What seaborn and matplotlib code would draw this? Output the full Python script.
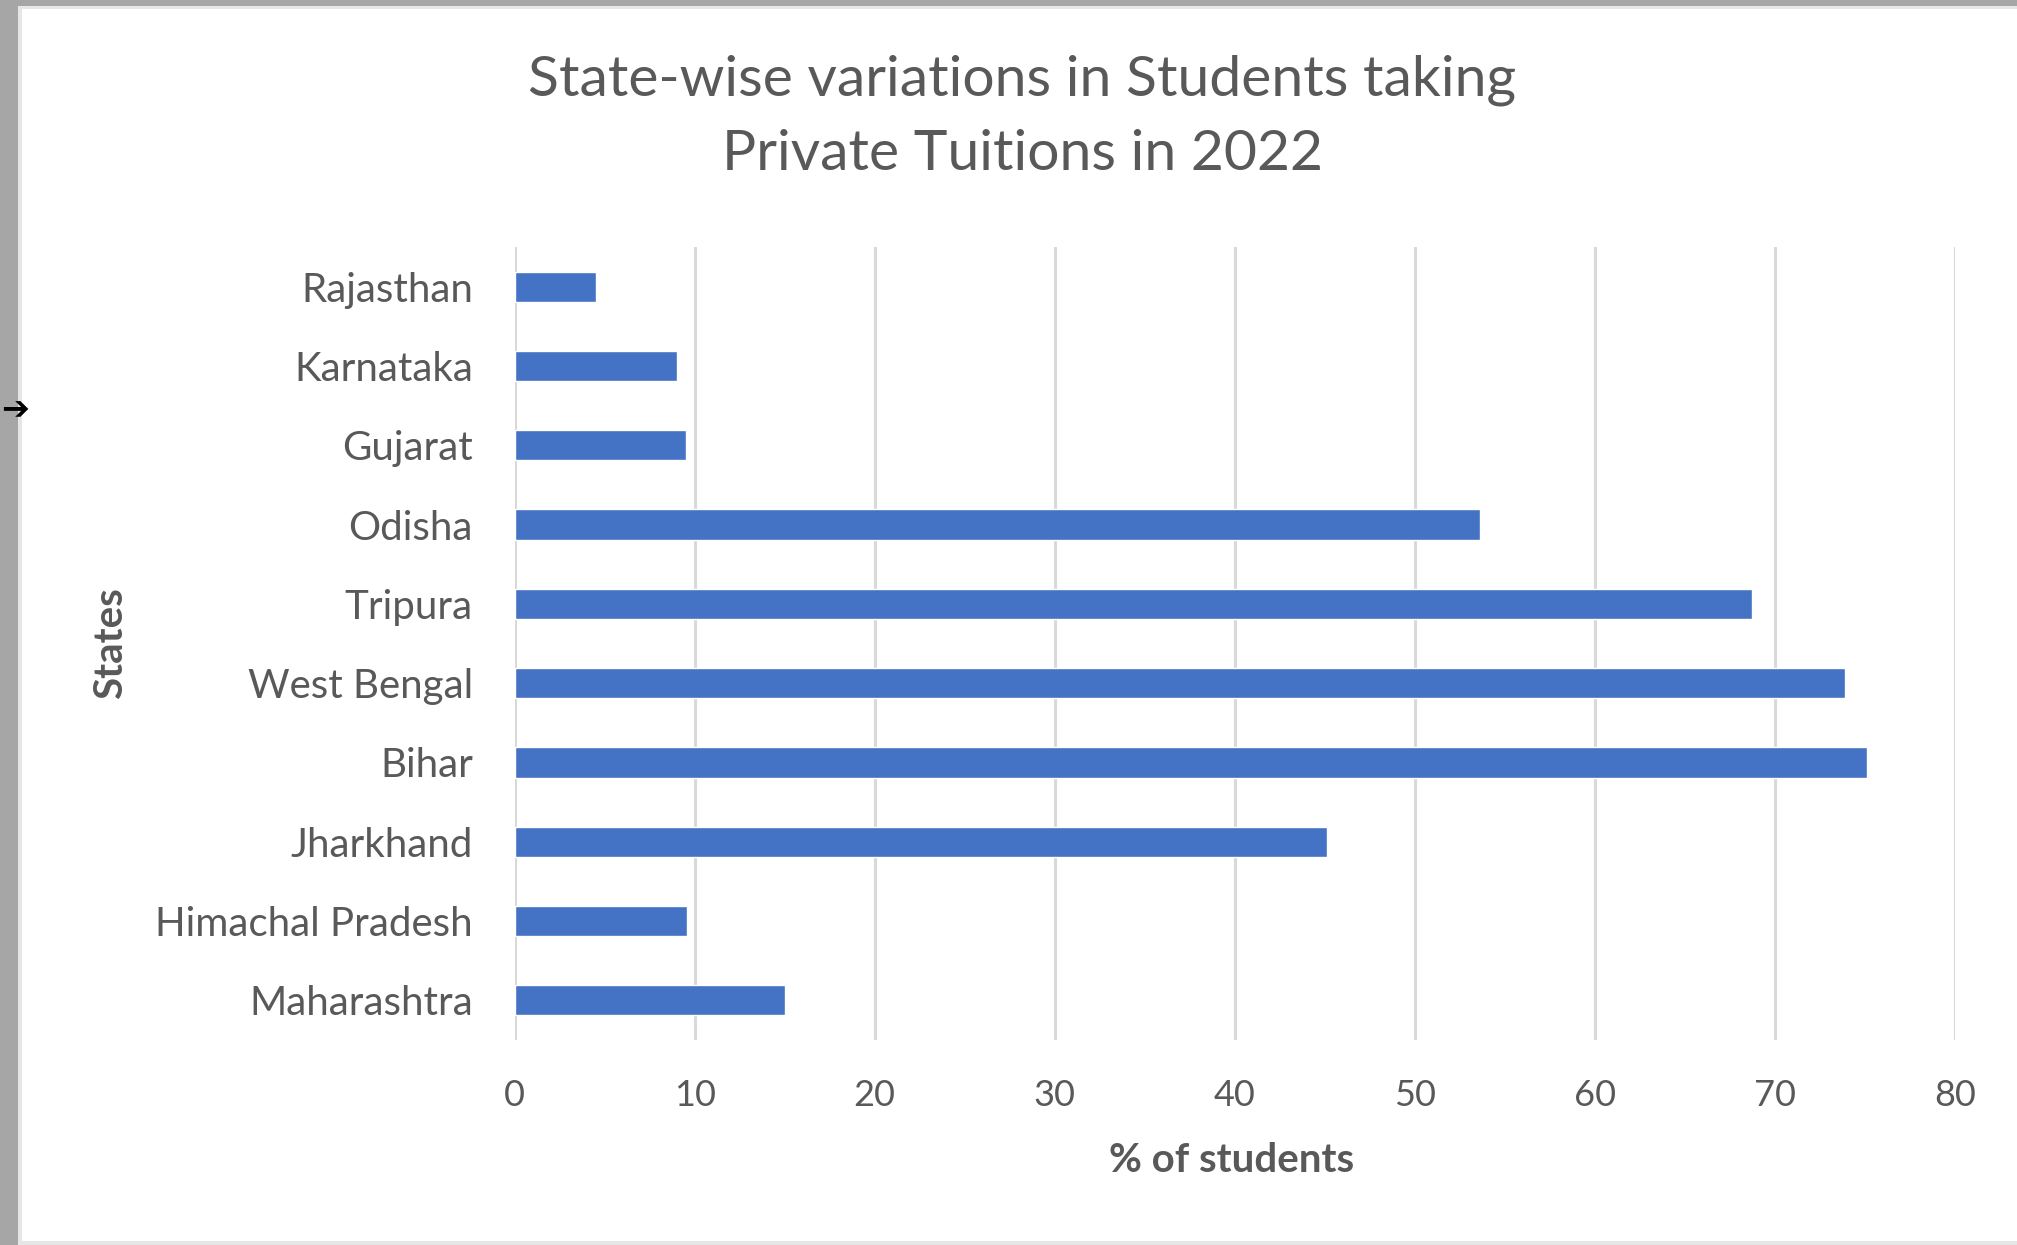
import matplotlib
matplotlib.use("Agg")
import matplotlib.pyplot as plt
import seaborn as sns
import pandas as pd
from matplotlib.patches import Rectangle

states = ["Rajasthan", "Karnataka", "Gujarat", "Odisha", "Tripura",
          "West Bengal", "Bihar", "Jharkhand", "Himachal Pradesh", "Maharashtra"]
percent = [4.5, 9.0, 9.5, 53.6, 68.7, 73.9, 75.1, 45.1, 9.6, 15.0]
xticks = [0, 10, 20, 30, 40, 50, 60, 70, 80]

title_lines = ["State-wise variations in Students taking", "Private Tuitions in 2022"]
xlabel = "% of students"
ylabel = "States"

sns.set_theme(style="white")
plt.rcParams['font.family'] = ['Lato', 'DejaVu Sans']

df = pd.DataFrame({"State": states, "Percent": percent})

W, H = 2017, 1245
fig = plt.figure(figsize=(W / 100, H / 100), dpi=100)
fig.patch.set_facecolor("white")

# screenshot frame
fig.add_artist(Rectangle((0, 0), 1, 1, transform=fig.transFigure,
                         facecolor="#a6a6a6", edgecolor="none", zorder=-10))
fig.add_artist(Rectangle((18/W, 0), 1 - 18/W, 1 - 6/H, transform=fig.transFigure,
                         facecolor="#e6e6e6", edgecolor="none", zorder=-9))
fig.add_artist(Rectangle((22/W, 4/H), 1, 1 - 13/H, transform=fig.transFigure,
                         facecolor="white", edgecolor="none", zorder=-8))
fig.text(0.0005, 1 - 410/H, "➔", fontsize=24, color="black", fontweight="bold",
         family=['DejaVu Sans'], ha="left", va="center")

ax = fig.add_axes([514.6/W, 1 - 1040/H, (1955 - 514.6)/W, (1040 - 247)/H])
ax.set_facecolor("none")

sns.barplot(data=df, x="Percent", y="State", orient="h", color="#4472C4",
            width=0.38, saturation=1, ax=ax, zorder=3)

ax.set_xlim(0, 80)
ax.set_ylim(9.5, -0.5)
ax.set_xticks(xticks)
ax.set_xticklabels([str(t) for t in xticks])
ax.xaxis.grid(True, color="#d9d9d9", linewidth=2.2, zorder=0)
ax.yaxis.grid(False)
for s in ax.spines.values():
    s.set_visible(False)
ax.tick_params(axis="both", length=0, colors="#595959")
ax.tick_params(axis="y", pad=30, labelsize=29)
ax.tick_params(axis="x", pad=28, labelsize=26)
ax.set_xlabel("")
ax.set_ylabel("")

fig.text(1232/W, 1 - 1160/H, xlabel, ha="center", va="center",
         fontsize=29, fontweight="bold", color="#595959")
fig.text(111/W, 1 - 643/H, ylabel, ha="center", va="center", rotation=90,
         fontsize=29, fontweight="bold", color="#595959")

fig.text(1022/W, 1 - 80/H, title_lines[0], ha="center", va="center",
         fontsize=41, color="#595959")
fig.text(1022/W, 1 - 154/H, title_lines[1], ha="center", va="center",
         fontsize=41, color="#595959")

fig.savefig("out.png", dpi=100)
